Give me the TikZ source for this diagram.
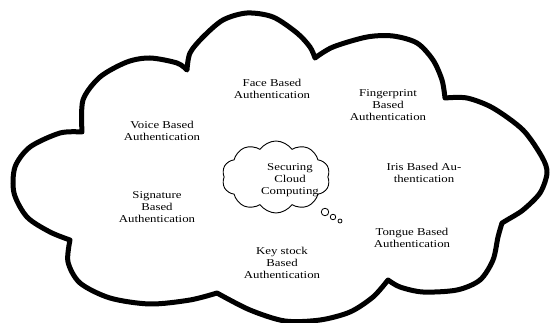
\documentclass[tikz,border=0pt]{standalone}
\usepackage{fontspec}
\setmainfont{Liberation Serif}[FakeStretch=1.22]
\usetikzlibrary{shapes.symbols}
\tikzset{
  bigcloud/.style={line width=5pt, line join=round, black},
  lbl/.style={font=\fontsize{10.5}{12}\selectfont, align=center, inner sep=0pt, text=black},
  smallcloud/.style={cloud, draw, line width=0.9pt, cloud puffs=10, cloud puff arc=110, aspect=1.55, minimum width=108pt, minimum height=72pt, inner sep=0pt},
  bubble/.style={circle, draw, line width=0.8pt, inner sep=0pt}
}
\begin{document}
\begin{tikzpicture}[x=1pt, y=-1pt]
\useasboundingbox (0,0) rectangle (552,323);
\fill[white] (0,0) rectangle (552,323);
% big cloud outline
\draw[bigcloud]
  plot[smooth] coordinates {(82,132) (83,100) (100,77) (127,62) (150,58) (177,63) (187,70)}
  -- plot[smooth] coordinates {(187,70) (190,53) (203,37) (223,20) (247,13) (273,17) (297,33) (310,47) (315,58)}
  -- plot[smooth] coordinates {(315,58) (333,47) (367,37) (393,36) (417,43) (433,60) (442,80) (445,98)}
  -- plot[smooth] coordinates {(445,98) (467,98) (493,108) (523,130) (542,157) (547,173) (540,193) (523,210) (507,220) (502,223)}
  -- plot[smooth] coordinates {(502,223) (498,237) (493,260) (480,280) (457,290) (423,292) (400,287) (388,280)}
  -- plot[smooth] coordinates {(388,280) (373,297) (350,312) (320,320) (285,321) (250,310) (217,293)}
  -- plot[smooth] coordinates {(217,293) (190,300) (150,304) (110,298) (80,283) (68,262) (70,240)}
  -- plot[smooth] coordinates {(70,240) (50,232) (27,217) (14,193) (15,167) (30,147) (60,133) (82,132)}
  -- cycle;
% central thought cloud
\node[smallcloud] (sc) at (276,177) {};
\node[lbl] (sec) at (290,180) {Securing\\Cloud\\Computing};
\node[bubble, minimum size=7.5pt] (b1) at (325,212) {};
\node[bubble, minimum size=5.5pt] (b2) at (333,217) {};
\node[bubble, minimum size=4pt] (b3) at (340,221) {};
% labels
\node[lbl] (face) at (272,89) {Face Based\\Authentication};
\node[lbl] (finger) at (388,105) {Fingerprint\\Based\\Authentication};
\node[lbl] (voice) at (162,131) {Voice Based\\Authentication};
\node[lbl] (iris) at (424,173) {Iris Based Au-\\thentication};
\node[lbl] (sign) at (157,207) {Signature\\Based\\Authentication};
\node[lbl] (tongue) at (412,238) {Tongue Based\\Authentication};
\node[lbl] (key) at (282,263) {Key stock\\Based\\Authentication};
\end{tikzpicture}
\end{document}
